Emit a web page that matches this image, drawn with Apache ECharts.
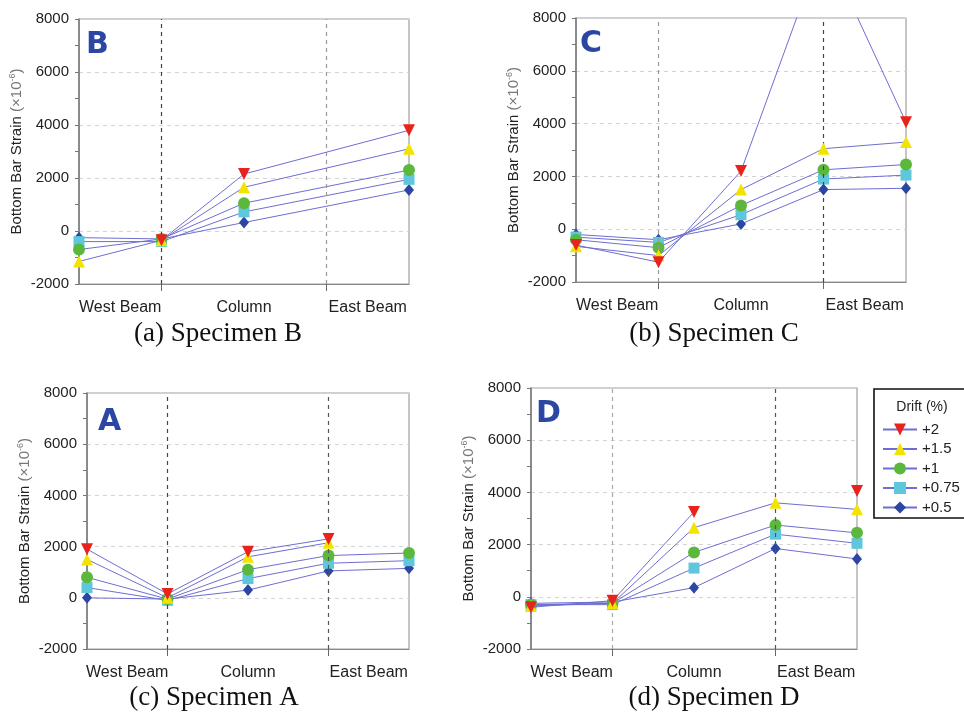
<!DOCTYPE html>
<html>
<head>
<meta charset="utf-8">
<script src="https://cdn.jsdelivr.net/npm/echarts@6/dist/echarts.min.js"></script>
<style>
  html, body { margin: 0; padding: 0; background: #fff; }
  #chart { width: 964px; height: 721px; }
</style>
</head>
<body>
<div id="chart"></div>
<script>
// drift levels, drawn from smallest to largest so +2 sits on top
var driftNames = ['+0.5', '+0.75', '+1', '+1.5', '+2'];
var legendOrder = ['+2', '+1.5', '+1', '+0.75', '+0.5'];
var xLabels = ['West Beam', 'Column', 'East Beam'];
var xLabelPos = [0.5, 2, 3.5];
var dividerPos = [1, 3];

// specimen B has no reading at the first east-beam gauge
var posB = [0, 1, 2, 4];
var specB_05 = [-250, -300, 320, 1550];
var specB_075 = [-400, -400, 720, 1950];
var specB_1 = [-700, -300, 1050, 2300];
var specB_15 = [-1150, -350, 1650, 3100];
var specB_2 = [null, -350, 2150, 3800];

var posC = [0, 1, 2, 3, 4];
var specC_05 = [-200, -400, 200, 1500, 1550];
var specC_075 = [-300, -500, 550, 1900, 2050];
var specC_1 = [-400, -700, 900, 2250, 2450];
var specC_15 = [-650, -1000, 1500, 3050, 3300];
var specC_2 = [-600, -1250, 2200, 10800, 4050];

var posA = [0, 1, 2, 3, 4];
var specA_05 = [0, -50, 300, 1050, 1150];
var specA_075 = [400, -100, 750, 1350, 1450];
var specA_1 = [800, -50, 1100, 1650, 1750];
var specA_15 = [1500, 0, 1600, 2150, null];
var specA_2 = [1900, 150, 1800, 2300, null];

var posD = [0, 1, 2, 3, 4];
var specD_05 = [-250, -200, 350, 1850, 1450];
var specD_075 = [-300, -300, 1100, 2400, 2050];
var specD_1 = [-300, -250, 1700, 2750, 2450];
var specD_15 = [-350, -250, 2650, 3600, 3350];
var specD_2 = [-400, -150, 3250, null, 4050];

var markers = {
  '+0.5':  { symbol: 'diamond', size: [10, 12], rotate: 0, color: '#2b47a3' },
  '+0.75': { symbol: 'rect', size: 11, rotate: 0, color: '#5ec7dc' },
  '+1':    { symbol: 'circle', size: 12, rotate: 0, color: '#5cb83c' },
  '+1.5':  { symbol: 'triangle', size: 12, rotate: 0, color: '#f3e400' },
  '+2':    { symbol: 'triangle', size: 12, rotate: 180, color: '#e8231e' }
};

var panels = [
  { grid: { left: 79, top: 19, width: 330, height: 265 }, pos: posB,
    vals: [specB_05, specB_075, specB_1, specB_15, specB_2],
    vcol: ['#444', '#999'], connect: true },
  { grid: { left: 576, top: 18, width: 330, height: 264 }, pos: posC,
    vals: [specC_05, specC_075, specC_1, specC_15, specC_2],
    vcol: ['#999', '#444'], connect: false },
  { grid: { left: 87, top: 393, width: 322, height: 256 }, pos: posA,
    vals: [specA_05, specA_075, specA_1, specA_15, specA_2],
    vcol: ['#444', '#555'], connect: false },
  { grid: { left: 531, top: 388, width: 326, height: 261 }, pos: posD,
    vals: [specD_05, specD_075, specD_1, specD_15, specD_2],
    vcol: ['#aaa', '#555'], connect: false }
];

var grids = [], xAxes = [], yAxes = [], series = [];

panels.forEach(function (p, k) {
  grids.push(Object.assign({ show: true, borderColor: '#a0a0a0', borderWidth: 1.2, backgroundColor: '#fff' }, p.grid));

  xAxes.push({
    type: 'value', gridIndex: k, min: 0, max: 4, interval: 1,
    axisLine: { show: true, onZero: false, lineStyle: { color: '#888', width: 1.2 } },
    axisTick: { show: true, customValues: dividerPos, length: 7, lineStyle: { color: '#666' } },
    axisLabel: {
      customValues: xLabelPos, margin: 16, fontSize: 16, color: '#222',
      fontFamily: 'Liberation Sans',
      formatter: function (v) { return xLabels[xLabelPos.indexOf(v)] || ''; }
    },
    splitLine: { show: false }
  });

  yAxes.push({
    type: 'value', gridIndex: k, min: -2000, max: 8000, interval: 2000,
    name: '{a|Bottom Bar Strain }{b|(×10}{c|-6}{b|)}',
    nameLocation: 'middle', nameGap: 54, nameRotate: 90,
    nameTextStyle: {
      rich: {
        a: { fontSize: 15, color: '#222', fontFamily: 'Liberation Sans' },
        b: { fontSize: 15, color: '#777', fontFamily: 'Liberation Sans' },
        c: { fontSize: 9, color: '#777', fontFamily: 'Liberation Sans', verticalAlign: 'top', padding: [0, 0, 8, 0] }
      }
    },
    axisLine: { show: true, lineStyle: { color: '#777', width: 1.5 } },
    axisTick: { show: true, length: 4, lineStyle: { color: '#777' } },
    minorTick: { show: true, splitNumber: 2, length: 4, lineStyle: { color: '#777' } },
    axisLabel: { fontSize: 15, color: '#222', margin: 10, fontFamily: 'Liberation Sans',
      formatter: function (v) { return String(v); } },
    splitLine: { show: true, lineStyle: { color: '#d4d4d4', type: [4, 4] } }
  });

  // dashed dividers between beam and column regions
  series.push({
    type: 'line', xAxisIndex: k, yAxisIndex: k, data: [], silent: true,
    markLine: {
      silent: true, symbol: 'none', label: { show: false },
      data: dividerPos.map(function (x, i) {
        return { xAxis: x, lineStyle: { color: p.vcol[i], type: [4, 4], width: 1.2 } };
      })
    },
    z: 1
  });

  driftNames.forEach(function (name, j) {
    var m = markers[name];
    var vals = p.vals[j];
    series.push({
      name: name, type: 'line', xAxisIndex: k, yAxisIndex: k,
      data: p.pos.map(function (x, i) { return [x, vals[i]]; }).filter(function (d) {
        return !(p.connect && d[1] === null);
      }),
      connectNulls: false, clip: true,
      symbol: m.symbol, symbolSize: m.size, symbolRotate: m.rotate,
      showAllSymbol: true,
      lineStyle: { color: '#6e6ed2', width: 1 },
      itemStyle: { color: m.color, opacity: 1 },
      emphasis: { disabled: true },
      z: 2 + j
    });
  });
});

function caption(text, cx, cy) {
  return { type: 'text', x: cx, y: cy,
    style: { text: text, fontSize: 27, fontFamily: 'Liberation Serif', fill: '#111',
      align: 'center', verticalAlign: 'middle' } };
}
function tag(text, x, y) {
  return { type: 'text', x: x, y: y, z: 100,
    style: { text: text, fontSize: 30, fontWeight: 'bold', fontFamily: 'DejaVu Sans', fill: '#2b47a3' } };
}

var graphics = [
  caption('(a) Specimen B', 218, 334),
  caption('(b) Specimen C', 714, 334),
  caption('(c) Specimen A', 214, 698),
  caption('(d) Specimen D', 714, 698),
  tag('B', 86, 30),
  tag('C', 580, 29),
  tag('A', 98, 407),
  tag('D', 536, 399),
  { type: 'rect', shape: { x: 874, y: 389, width: 100, height: 129 },
    style: { fill: '#fff', stroke: '#111', lineWidth: 1.6 }, z: 50 },
  { type: 'text', x: 922, y: 407, z: 60,
    style: { text: 'Drift (%)', fontSize: 14, fontFamily: 'Liberation Sans', fill: '#222', align: 'center', verticalAlign: 'middle' } }
];

var chart = echarts.init(document.getElementById('chart'), null, { renderer: 'canvas' });
chart.setOption({
  animation: false,
  backgroundColor: '#fff',
  grid: grids,
  xAxis: xAxes,
  yAxis: yAxes,
  series: series,
  legend: {
    data: legendOrder, orient: 'vertical', left: 877, top: 417, z: 70,
    itemWidth: 34, itemHeight: 15, itemGap: 4.5, selectedMode: false,
    textStyle: { fontSize: 15, color: '#222', fontFamily: 'Liberation Sans' }
  },
  graphic: graphics
});
</script>
</body>
</html>
